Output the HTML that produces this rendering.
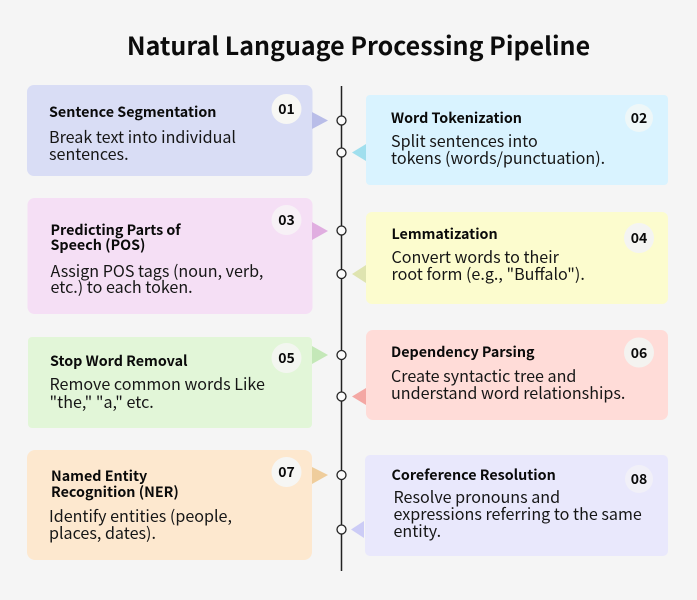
<!DOCTYPE html>
<html><head><meta charset="utf-8"><style>
html,body{margin:0;padding:0;background:#f5f5f5}
svg{display:block}
text{font-family:"Noto Sans CJK JP","Liberation Sans",sans-serif;fill:#161616}
.t{font-weight:700;font-size:14.3px;fill:#0a0a0a}
.b{font-size:16.1px}
.n{font-weight:700;font-size:14px;text-anchor:middle;fill:#0a0a0a}
</style></head><body>
<svg width="697" height="600" viewBox="0 0 697 600" xmlns="http://www.w3.org/2000/svg">
<rect width="697" height="600" fill="#f5f5f5"/>
<text x="358.500" y="55" text-anchor="middle" style="font-weight:700;font-size:25px;fill:#0c0c0c">Natural Language Processing Pipeline</text>

<rect x="27" y="85" width="285.500" height="91" rx="7" fill="#d9ddf5"/>
<rect x="366" y="95" width="302" height="90" rx="4" fill="#d9f3ff"/>
<rect x="27.500" y="198" width="285" height="116" rx="7" fill="#f5dff5"/>
<rect x="366" y="212" width="302" height="92" rx="6" fill="#fcfcce"/>
<rect x="28" y="337" width="284" height="91" rx="4" fill="#e2f6d8"/>
<rect x="366" y="330" width="302" height="90" rx="7" fill="#ffdcd8"/>
<rect x="27" y="450" width="285" height="110" rx="8" fill="#fde8cf"/>
<rect x="365" y="455" width="303" height="101" rx="5" fill="#e9e8fc"/>

<polygon points="312,112 328,120.500 312,129" fill="#b9bde8"/>
<polygon points="366,144 352,152.500 366,161" fill="#a0dfee"/>
<polygon points="312,222 328,231 312,240" fill="#e0aee0"/>
<polygon points="366,265 352,274 366,283" fill="#dfe4b0"/>
<polygon points="312,346 328,355 312,364" fill="#c4e8b8"/>
<polygon points="366,388 352,396.500 366,405" fill="#f4a8a4"/>
<polygon points="312,467 328,475 312,484" fill="#efcd9c"/>
<polygon points="364,521 351,529.500 364,538" fill="#ccccf6"/>

<line x1="341.500" y1="86" x2="341.500" y2="571" stroke="#222" stroke-width="1.500"/>
<g fill="#fbfbfb" stroke="#222" stroke-width="1.300">
<circle cx="341.500" cy="120.500" r="4.500"/><circle cx="341.500" cy="152.500" r="4.500"/>
<circle cx="341.500" cy="230.500" r="4.500"/><circle cx="341.500" cy="274" r="4.500"/>
<circle cx="341.500" cy="355" r="4.500"/><circle cx="341.500" cy="396.500" r="4.500"/>
<circle cx="341.500" cy="475" r="4.500"/><circle cx="341.500" cy="529.500" r="4.500"/>
</g>
<circle cx="286.500" cy="109" r="15" fill="#f7f7f4"/>
<circle cx="639" cy="118" r="14" fill="#eef7f8"/>
<circle cx="286.500" cy="220" r="15" fill="#f7f1f6"/>
<circle cx="639" cy="238" r="15" fill="#f4f4f2"/>
<circle cx="286.500" cy="358" r="15" fill="#f3f6f0"/>
<circle cx="639" cy="352.500" r="15" fill="#f4f3f0"/>
<circle cx="286.500" cy="472" r="15" fill="#f6f6f4"/>
<circle cx="639" cy="479" r="14" fill="#f1f0f8"/>
<text class="n" x="286.500" y="114">01</text>
<text class="n" x="639" y="123">02</text>
<text class="n" x="286.500" y="225">03</text>
<text class="n" x="639" y="243">04</text>
<text class="n" x="286.500" y="363">05</text>
<text class="n" x="639" y="358">06</text>
<text class="n" x="286.500" y="477">07</text>
<text class="n" x="639" y="484">08</text>

<text class="t" x="49" y="117">Sentence Segmentation</text>
<text class="b" x="49" y="143">Break text into individual</text>
<text class="b" x="49" y="160">sentences.</text>

<text class="t" x="391" y="123">Word Tokenization</text>
<text class="b" x="391" y="147">Split sentences into</text>
<text class="b" x="391" y="164">tokens (words/punctuation).</text>

<text class="t" x="50.500" y="235">Predicting Parts of</text>
<text class="t" x="50.500" y="250">Speech (POS)</text>
<text class="b" x="50.500" y="277">Assign POS tags (noun, verb,</text>
<text class="b" x="50.500" y="293">etc.) to each token.</text>

<text class="t" x="391.500" y="239">Lemmatization</text>
<text class="b" x="391.500" y="263">Convert words to their</text>
<text class="b" x="391.500" y="280">root form (e.g., "Buffalo").</text>

<text class="t" x="50" y="366">Stop Word Removal</text>
<text class="b" x="49.500" y="390">Remove common words Like</text>
<text class="b" x="49.500" y="408">"the," "a," etc.</text>

<text class="t" x="391" y="357">Dependency Parsing</text>
<text class="b" x="391" y="382">Create syntactic tree and</text>
<text class="b" x="391" y="399">understand word relationships.</text>

<text class="t" x="51" y="481">Named Entity</text>
<text class="t" x="51" y="497">Recognition (NER)</text>
<text class="b" x="49" y="522">Identify entities (people,</text>
<text class="b" x="49" y="539">places, dates).</text>

<text class="t" x="391.500" y="480">Coreference Resolution</text>
<text class="b" x="393.500" y="503">Resolve pronouns and</text>
<text class="b" x="393.500" y="520">expressions referring to the same</text>
<text class="b" x="393.500" y="537">entity.</text>
</svg>
</body></html>
